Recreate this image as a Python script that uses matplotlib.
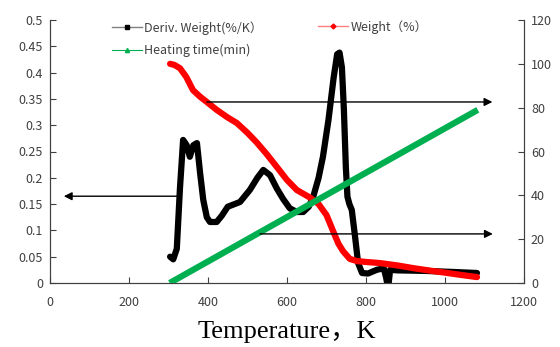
import matplotlib
matplotlib.use("Agg")
import matplotlib.pyplot as plt
from matplotlib.lines import Line2D

# ---- data ----
T_dtg = [304, 312, 321, 329, 337, 346, 354, 363, 372, 380, 388, 397, 405, 422, 435, 450, 481, 506,
         525, 540, 557, 574, 590, 607, 625, 641, 655, 666, 680, 691, 705, 718, 727, 733, 739, 744,
         749, 753, 758, 764, 772, 780, 790, 805, 827, 845, 851, 856, 861, 880, 950, 1020, 1081]
dtg = [0.050, 0.045, 0.065, 0.180, 0.272, 0.262, 0.240, 0.262, 0.266, 0.209, 0.158, 0.125, 0.116,
       0.116, 0.128, 0.145, 0.154, 0.177, 0.200, 0.215, 0.205, 0.180, 0.160, 0.142, 0.135, 0.135,
       0.145, 0.163, 0.200, 0.240, 0.310, 0.390, 0.435, 0.438, 0.410, 0.330, 0.220, 0.164, 0.150,
       0.139, 0.090, 0.038, 0.019, 0.018, 0.025, 0.028, 0.010, -0.010, 0.025, 0.024, 0.023, 0.021,
       0.019]

T_w = [304, 315, 329, 345, 362, 380, 397, 422, 450, 473, 500, 524, 550, 574, 600, 625, 658, 680,
       700, 716, 730, 742, 759, 777, 800, 835, 880, 919, 960, 1005, 1040, 1081]
weight = [100, 99.5, 98, 94, 88, 85, 82.6, 79, 75.5, 73, 68.5, 64, 58.5, 53, 47, 42.4, 39, 36,
          31, 24, 18, 14.5, 11, 10, 9.6, 9.1, 8, 6.8, 5.7, 4.6, 3.7, 2.7]

T_time = [303, 1083]
heat_time = [0, 79]

labels = ["Deriv. Weight(%/K）", "Weight（%）", "Heating time(min)"]
x_ticks = [0, 200, 400, 600, 800, 1000, 1200]
y_ticks = [0, 0.05, 0.1, 0.15, 0.2, 0.25, 0.3, 0.35, 0.4, 0.45, 0.5]
y2_ticks = [0, 20, 40, 60, 80, 100, 120]

plt.rcParams['font.family'] = ['Noto Sans CJK SC', 'DejaVu Sans']
tick_col = '#404040'

fig = plt.figure(figsize=(5.6, 3.47), dpi=100)
ax = fig.add_axes([50/560, 1-283/347, (524-50)/560, (283-20)/347])
ax2 = ax.twinx()

ax.plot(T_dtg, dtg, color='black', lw=4.5, solid_joinstyle='round', solid_capstyle='round', zorder=2)
ax2.plot(T_w, weight, color='#FF0000', lw=4.5, solid_joinstyle='round', solid_capstyle='round', zorder=2)
ax2.plot(T_time, heat_time, color='#00B050', lw=4.5, solid_capstyle='butt', zorder=3)

ax.set_xlim(0, 1200)
ax.set_ylim(0, 0.5)
ax2.set_ylim(0, 120)
ax.set_xticks(x_ticks)
ax.set_xticklabels([str(v) for v in x_ticks])
ax.set_yticks(y_ticks)
ax.set_yticklabels(['0', '0.05', '0.1', '0.15', '0.2', '0.25', '0.3', '0.35', '0.4', '0.45', '0.5'])
ax2.set_yticks(y2_ticks)

for a in (ax, ax2):
    a.tick_params(direction='in', length=4, width=0.8, color=tick_col, labelcolor=tick_col,
                  labelsize=9, pad=5)
    for s in a.spines.values():
        s.set_color(tick_col)
        s.set_linewidth(0.8)
    a.spines['top'].set_visible(False)
ax.tick_params(axis='x', pad=9)

# arrows
arrowprops = dict(arrowstyle='-|>', color='black', lw=1.0, mutation_scale=12, shrinkA=0, shrinkB=0)
ax.annotate('', xy=(35, 0.165), xytext=(321, 0.165), arrowprops=arrowprops, zorder=5)
ax2.annotate('', xy=(1120, 82.6), xytext=(397, 82.6), arrowprops=arrowprops, zorder=5)
ax2.annotate('', xy=(1121, 22.4), xytext=(532, 22.4), arrowprops=arrowprops, zorder=5)

ax.set_xlabel('Temperature，K', family=['Liberation Serif', 'Noto Sans CJK SC'], fontsize=19,
              labelpad=9, color='black')

# legend
h_dtg = Line2D([], [], color='#808080', lw=1, marker='s', markersize=3, markerfacecolor='black',
               markeredgecolor='black')
h_w = Line2D([], [], color='#FF8080', lw=1, marker='D', markersize=2.5, markerfacecolor='#FF0000',
             markeredgecolor='#FF0000')
h_t = Line2D([], [], color='#00B050', lw=0.8, marker='^', markersize=3, markerfacecolor='#00B050',
             markeredgecolor='#00B050')
fig.legend([h_dtg, h_t], [labels[0], labels[2]], loc='upper left',
           bbox_to_anchor=(112/560, 1-21/347), frameon=False, fontsize=9,
           handlelength=2.4, handletextpad=0.2, labelspacing=0.75, borderpad=0,
           borderaxespad=0, labelcolor=tick_col)
fig.legend([h_w], [labels[1]], loc='upper left', bbox_to_anchor=(318/560, 1-20/347),
           frameon=False, fontsize=9, handlelength=2.4, handletextpad=0.2, borderpad=0,
           borderaxespad=0, labelcolor=tick_col)

fig.savefig('out.png', dpi=100)
